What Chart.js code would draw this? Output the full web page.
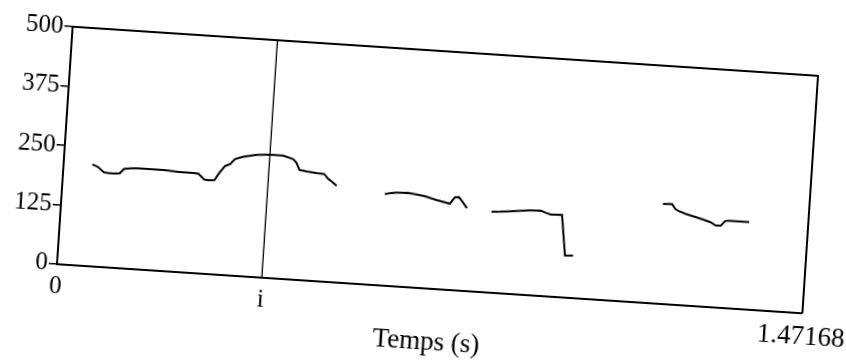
<!DOCTYPE html>
<html>
<head>
<meta charset="utf-8">
<script src="https://cdn.jsdelivr.net/npm/chart.js@4/dist/chart.umd.min.js"></script>
<style>
    html, body { margin: 0; padding: 0; background: #fff; overflow: hidden; width: 846px; height: 360px; }
    /* the scanned figure is tilted a little, so the whole chart box is rotated */
    #wrap {
        position: absolute; left: -30px; top: -30px; width: 906px; height: 420px;
        transform-origin: 467.25px 200px;
        transform: rotate(3.77deg);
    }
</style>
</head>
<body>
<div id="wrap"><canvas id="chart" width="906" height="420"></canvas></div>
<script>
// Axis ranges and labels
const xMax = 1.47168;
const yMax = 500;
const yStep = 125;
const cursorTime = 0.405;
const xTickValues = [0, cursorTime, xMax];
const xTickLabels = ["0", "i", "1.47168"];

// Pitch track (time in s, frequency in Hz), one pair per voiced stretch
const seg1Time = [0.057, 0.068, 0.081, 0.091, 0.101, 0.112, 0.120, 0.133, 0.149, 0.166, 0.198, 0.231, 0.257, 0.267, 0.279, 0.288, 0.299, 0.308, 0.318, 0.328, 0.337, 0.353, 0.379, 0.405, 0.431, 0.451, 0.458, 0.465, 0.479, 0.499, 0.514, 0.523, 0.530, 0.540];
const seg1Hz   = [214, 210, 199, 198, 198, 199, 209, 211, 212, 212, 212, 210, 210, 209, 198, 197, 198, 214, 229, 234, 245, 251, 257, 259, 259, 253, 246, 231, 229, 227, 226, 216, 211, 203];

const seg2Time = [0.636, 0.646, 0.659, 0.681, 0.698, 0.715, 0.738, 0.765, 0.774, 0.782, 0.791, 0.799];
const seg2Hz   = [192, 195, 197, 198, 196, 193, 187, 181, 195, 196, 185, 174];

const seg3Time = [0.848, 0.864, 0.896, 0.922, 0.945, 0.955, 0.965, 0.987, 0.998, 1.014];
const seg3Hz   = [170, 171, 175, 178, 179, 175, 172, 173, 88, 89];

const seg4Time = [1.184, 1.202, 1.209, 1.216, 1.230, 1.250, 1.267, 1.280, 1.290, 1.300, 1.309, 1.316, 1.335, 1.356];
const seg4Hz   = [210, 211, 201, 197, 192, 187, 182, 178, 172, 172, 183, 184, 184, 184];

const FONT = "'Liberation Serif', 'Times New Roman', serif";

const toPoints = (ts, hs) => ts.map((t, i) => ({ x: t, y: hs[i] }));
const trackLine = (ts, hs) => ({
    data: toPoints(ts, hs),
    borderColor: "#000",
    borderWidth: 2,
    pointRadius: 0,
    tension: 0,
    fill: false
});

new Chart(document.getElementById("chart"), {
    type: "line",
    data: {
        datasets: [
            trackLine(seg1Time, seg1Hz),
            trackLine(seg2Time, seg2Hz),
            trackLine(seg3Time, seg3Hz),
            trackLine(seg4Time, seg4Hz),
            {
                // cursor
                data: [{ x: cursorTime, y: 0 }, { x: cursorTime, y: yMax }],
                borderColor: "#000",
                borderWidth: 1.3,
                pointRadius: 0,
                fill: false
            }
        ]
    },
    options: {
        responsive: false,
        animation: false,
        events: [],
        layout: { padding: { left: 33.75, top: 81.15, right: 65.25, bottom: 0 } },
        plugins: { legend: { display: false }, tooltip: { enabled: false } },
        scales: {
            x: {
                type: "linear",
                position: "bottom",
                min: 0,
                max: xMax,
                afterBuildTicks: (scale) => { scale.ticks = xTickValues.map(v => ({ value: v })); },
                afterFit: (scale) => { scale.height = 101.15; },
                ticks: {
                    color: "#000",
                    padding: 8,
                    maxRotation: 0,
                    autoSkip: false,
                    // the end label is printed a bit larger on the scan
                    font: (ctx) => ({ family: FONT, size: ctx.index === 2 ? 27 : 25 }),
                    callback: (v, i) => xTickLabels[i]
                },
                grid: { display: false, drawTicks: false },
                border: { display: true, color: "#000", width: 2 },
                title: {
                    display: true,
                    text: "Temps (s)",
                    color: "#000",
                    font: { family: FONT, size: 27 },
                    padding: { top: 0, bottom: 31 }
                }
            },
            y: {
                position: "left",
                min: 0,
                max: yMax,
                afterFit: (scale) => { scale.width = 60; },
                ticks: {
                    stepSize: yStep,
                    color: "#000",
                    padding: 1,
                    font: { family: FONT, size: 25 }
                },
                grid: { drawOnChartArea: false, drawTicks: true, tickLength: 8, color: "#000", lineWidth: 1.5 },
                border: { display: true, color: "#000", width: 2 }
            },
            // top and right edges of the frame
            x2: {
                position: "top",
                afterFit: (scale) => { scale.height = 0; },
                ticks: { display: false },
                grid: { display: false, drawTicks: false },
                border: { display: true, color: "#000", width: 2 }
            },
            y2: {
                position: "right",
                afterFit: (scale) => { scale.width = 0; },
                ticks: { display: false },
                grid: { display: false, drawTicks: false },
                border: { display: true, color: "#000", width: 2 }
            }
        }
    }
});
</script>
</body>
</html>
